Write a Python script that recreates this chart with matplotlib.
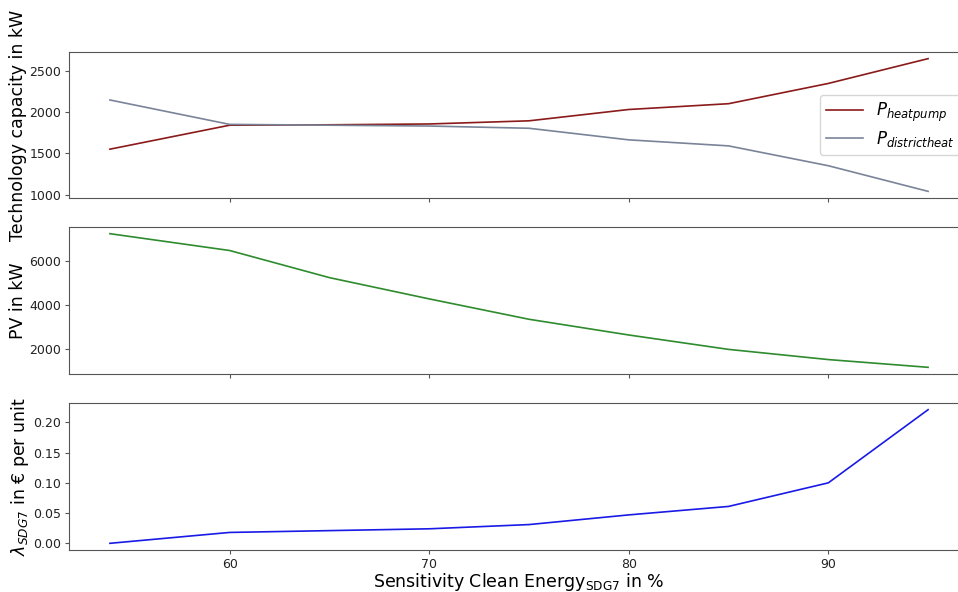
import matplotlib
matplotlib.use("Agg")
import matplotlib.pyplot as plt

# Sensitivity levels of the clean-energy target (SDG7), in %
sdg7_share = [54, 60, 65, 70, 75, 80, 85, 90, 95]

# Installed technology capacities in kW
p_heatpump = [1550, 1840, 1845, 1855, 1893, 2030, 2100, 2345, 2645]
p_districtheat = [2145, 1850, 1840, 1830, 1803, 1663, 1590, 1350, 1040]

# Installed PV capacity in kW
pv = [7215, 6455, 5230, 4270, 3350, 2640, 1990, 1530, 1180]

# Shadow price of the SDG7 constraint in EUR per unit
lambda_sdg7 = [0.0, 0.018, 0.021, 0.024, 0.031, 0.047, 0.061, 0.100, 0.221]

W, H = 958, 592
fig = plt.figure(figsize=(W / 100, H / 100), dpi=100)

left = 69 / W
right = 969 / W
rows = [(52, 198), (227, 374), (403, 550)]
axes = []
for top, bottom in rows:
    ax = fig.add_axes([left, 1 - bottom / H, right - left, (bottom - top) / H],
                      sharex=axes[0] if axes else None)
    axes.append(ax)
ax1, ax2, ax3 = axes

spine_col = "#555555"
for ax in axes:
    for s in ax.spines.values():
        s.set_color(spine_col)
    ax.tick_params(labelsize=9, color=spine_col, labelcolor="#222222",
                   length=3, pad=2.5)

label_kw = dict(fontsize=12.5, labelpad=2)

ax1.plot(sdg7_share, p_heatpump, color="#8b1a1a", lw=1.2, label=r"$P_{heatpump}$")
ax1.plot(sdg7_share, p_districtheat, color="#7a8498", lw=1.2, label=r"$P_{districtheat}$")
ax1.set_ylabel("Technology capacity in kW", **label_kw)
ax1.legend(loc="center right", fontsize=12, framealpha=0.8,
           borderpad=0.35, labelspacing=0.3, handlelength=2.2)
ax1.tick_params(labelbottom=False)

ax2.plot(sdg7_share, pv, color="#2e8b2e", lw=1.2)
ax2.set_ylabel("PV in kW", **label_kw)
ax2.tick_params(labelbottom=False)

ax3.plot(sdg7_share, lambda_sdg7, color="#1a1ae6", lw=1.2)
ax3.set_ylabel(r"$\lambda_{SDG7}$ in € per unit", **label_kw)
ax3.set_xlabel(r"Sensitivity Clean Energy$_{\mathrm{SDG7}}$ in %",
               fontsize=12.5, labelpad=0)
ax3.set_yticks([0.0, 0.05, 0.10, 0.15, 0.20])

fig.align_ylabels(axes)
fig.savefig("out.png", dpi=100)
